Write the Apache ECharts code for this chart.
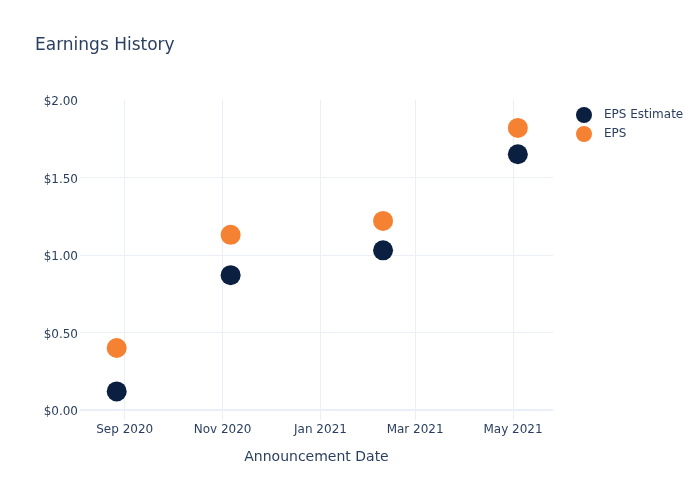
<!DOCTYPE html>
<html>
<head>
<meta charset="utf-8">
<script src="https://cdn.jsdelivr.net/npm/echarts@6/dist/echarts.min.js"></script>
<style>html,body{margin:0;padding:0;background:#fff}#c{width:700px;height:500px}</style>
</head>
<body>
<div id="c"></div>
<script>
const dates = ['2020-08-27', '2020-11-06', '2021-02-09', '2021-05-04'];
const epsEstimate = [0.12, 0.87, 1.03, 1.65];
const eps = [0.40, 1.13, 1.22, 1.82];
const xTicks = ['2020-09-01', '2020-11-01', '2021-01-01', '2021-03-01', '2021-05-01'];
const yTicks = [0, 0.5, 1.0, 1.5, 2.0];
const monthNames = ['Jan','Feb','Mar','Apr','May','Jun','Jul','Aug','Sep','Oct','Nov','Dec'];

const ts = s => { const p = s.split('-').map(Number); return Date.UTC(p[0], p[1]-1, p[2]); };
const textColor = '#2a3f5f';
const gridColor = '#ebf0f8';
const font = 'DejaVu Sans';

const chart = echarts.init(document.getElementById('c'), null, {renderer: 'canvas'});
chart.setOption({
  animation: false,
  backgroundColor: '#fff',
  textStyle: {fontFamily: font},
  title: {
    text: 'Earnings History',
    left: 35, top: 37, padding: 0,
    textStyle: {fontFamily: font, fontSize: 17, fontWeight: 'normal', color: textColor}
  },
  legend: {
    orient: 'vertical',
    left: 571, top: 102,
    itemWidth: 30, itemHeight: 16, itemGap: 3,
    icon: 'circle',
    textStyle: {fontFamily: font, fontSize: 12, color: textColor},
    data: ['EPS Estimate', 'EPS']
  },
  grid: {left: 80, right: 147, top: 100, bottom: 80},
  xAxis: {
    type: 'value',
    min: Date.UTC(2020, 7, 4, 3),
    max: Date.UTC(2021, 4, 25, 22),
    name: 'Announcement Date',
    nameLocation: 'middle',
    nameGap: 30,
    nameTextStyle: {fontFamily: font, fontSize: 14, color: textColor},
    axisLine: {show: false, onZero: false},
    axisTick: {show: false, customValues: xTicks.map(ts)},
    axisLabel: {
      customValues: xTicks.map(ts),
      margin: 4,
      fontFamily: font, fontSize: 12, color: textColor,
      formatter: v => { const d = new Date(v); return monthNames[d.getUTCMonth()] + ' ' + d.getUTCFullYear(); }
    },
    splitLine: {show: true, lineStyle: {color: gridColor, width: 1}}
  },
  yAxis: {
    type: 'value',
    min: -0.0645,
    max: 2.0,
    axisLine: {show: false},
    axisTick: {show: false, customValues: yTicks.slice(0, 4)},
    axisLabel: {
      customValues: yTicks,
      margin: 2,
      fontFamily: font, fontSize: 12, color: textColor,
      formatter: v => '{a|$' + Number(v).toFixed(2) + '}',
      rich: {a: {fontFamily: font, fontSize: 12, color: textColor, padding: [4, 0, 0, 0]}}
    },
    splitLine: {show: true, lineStyle: {color: gridColor, width: 1}}
  },
  series: [
    {
      name: 'EPS Estimate', type: 'scatter', symbol: 'circle', symbolSize: 20,
      itemStyle: {color: '#0b1f40', opacity: 1},
      markLine: {
        silent: true, symbol: 'none', label: {show: false},
        lineStyle: {color: gridColor, width: 2, type: 'solid'},
        data: [{yAxis: 0}]
      },
      data: dates.map((d, i) => [ts(d), epsEstimate[i]])
    },
    {
      name: 'EPS', type: 'scatter', symbol: 'circle', symbolSize: 20,
      itemStyle: {color: '#f58232', opacity: 1},
      data: dates.map((d, i) => [ts(d), eps[i]])
    }
  ]
});
</script>
</body>
</html>
